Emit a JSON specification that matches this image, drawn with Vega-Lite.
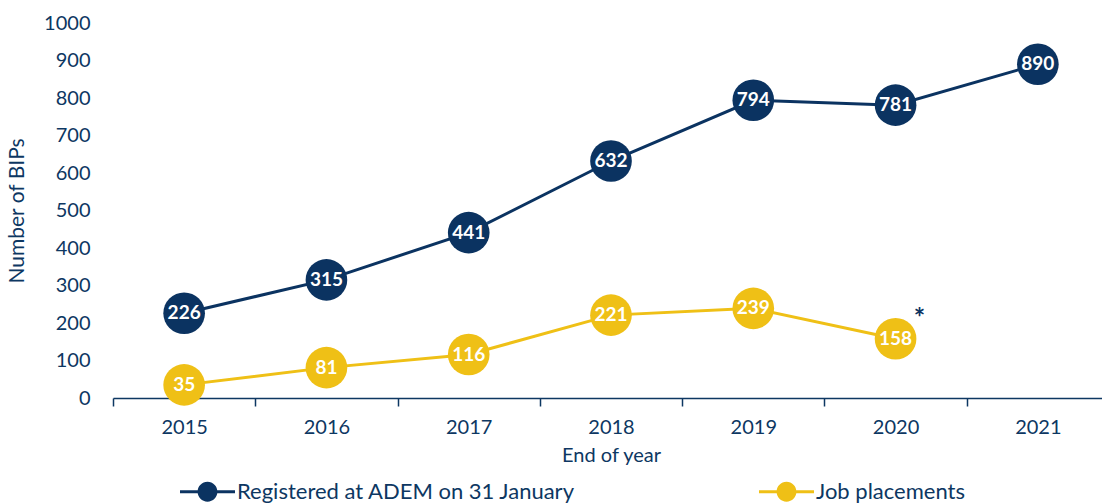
{
  "$schema": "https://vega.github.io/schema/vega-lite/v6.json",
  "width": 989,
  "height": 375,
  "autosize": {"type": "none"},
  "padding": {"left": 113, "top": 23, "right": 0, "bottom": 106},
  "background": "white",
  "config": {
    "view": {"stroke": null},
    "font": "Lato",
    "axis": {"labelColor": "#0d3762", "titleColor": "#0d3762", "domainColor": "#0d3762", "tickColor": "#0d3762", "grid": false, "labelFont": "Lato", "titleFont": "Lato", "titleFontWeight": "normal"}
  },
  "data": {"values": [
    {"year": "2015", "series": "Registered at ADEM on 31 January", "value": 226},
    {"year": "2016", "series": "Registered at ADEM on 31 January", "value": 315},
    {"year": "2017", "series": "Registered at ADEM on 31 January", "value": 441},
    {"year": "2018", "series": "Registered at ADEM on 31 January", "value": 632},
    {"year": "2019", "series": "Registered at ADEM on 31 January", "value": 794},
    {"year": "2020", "series": "Registered at ADEM on 31 January", "value": 781},
    {"year": "2021", "series": "Registered at ADEM on 31 January", "value": 890},
    {"year": "2015", "series": "Job placements", "value": 35},
    {"year": "2016", "series": "Job placements", "value": 81},
    {"year": "2017", "series": "Job placements", "value": 116},
    {"year": "2018", "series": "Job placements", "value": 221},
    {"year": "2019", "series": "Job placements", "value": 239},
    {"year": "2020", "series": "Job placements", "value": 158, "note": "*"}
  ]},
  "encoding": {
    "x": {"field": "year", "type": "ordinal", "title": "End of year",
      "scale": {"type": "band", "paddingInner": 0, "paddingOuter": 0, "range": [0, 996]},
      "axis": {"labelAngle": 0, "tickBand": "extent", "tickSize": 8, "domainWidth": 1.5, "tickWidth": 1.5, "labelFontSize": 20, "labelPadding": 11, "titleFontSize": 20, "titlePadding": 8}},
    "y": {"field": "value", "type": "quantitative", "title": "Number of BIPs",
      "scale": {"domain": [0, 1000], "nice": false},
      "axis": {"values": [0,100,200,300,400,500,600,700,800,900,1000], "format": "d", "domain": false, "ticks": false, "labelFontSize": 20, "labelPadding": 23, "titleFontSize": 21, "titlePadding": 16}},
    "color": {"field": "series", "type": "nominal",
      "scale": {"domain": ["Registered at ADEM on 31 January", "Job placements"], "range": ["#0b3361", "#efc016"]},
      "legend": {"title": null, "orient": "none", "legendX": 67, "legendY": 441, "direction": "horizontal", "columns": 2,
        "symbolType": "M-1,-0.055H-0.3V0.055H-1Z M0.3,-0.055H1V0.055H0.3Z M0.36,0A0.36,0.36 0 1,1 -0.36,0A0.36,0.36 0 1,1 0.36,0Z",
        "symbolSize": 3025, "symbolStrokeWidth": 0, "symbolOpacity": 1, "labelFontSize": 22, "labelColor": "#0d3762", "labelFont": "Lato", "labelLimit": 600, "columnPadding": 183, "labelOffset": 2}}
  },
  "layer": [
    {"mark": {"type": "line", "strokeWidth": 3}},
    {"mark": {"type": "point", "filled": true, "opacity": 1, "size": 1735}},
    {"mark": {"type": "text", "color": "white", "fontSize": 19, "fontWeight": "bold", "font": "Lato"},
      "encoding": {"text": {"field": "value", "type": "quantitative"}, "color": {"value": "white"}}},
    {"transform": [{"filter": "datum.note"}],
      "mark": {"type": "text", "color": "#0b3361", "fontSize": 27, "fontWeight": "bold", "dx": 24, "dy": -20, "font": "Lato"},
      "encoding": {"text": {"field": "note"}, "color": {"value": "#0b3361"}}}
  ]
}
